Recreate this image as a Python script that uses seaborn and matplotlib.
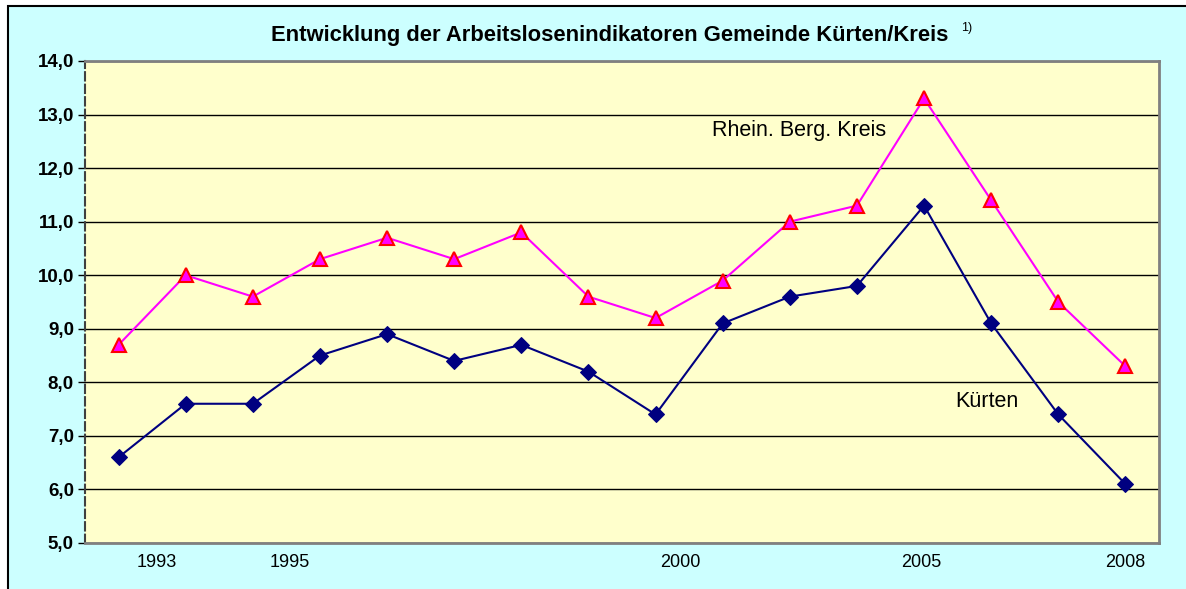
import numpy as np
import pandas as pd
import seaborn as sns
import matplotlib.pyplot as plt
from matplotlib.patches import Rectangle

# data
years = list(range(1993, 2009))
kuerten = [6.6, 7.6, 7.6, 8.5, 8.9, 8.4, 8.7, 8.2, 7.4, 9.1, 9.6, 9.8, 11.3, 9.1, 7.4, 6.1]
kreis = [8.7, 10.0, 9.6, 10.3, 10.7, 10.3, 10.8, 9.6, 9.2, 9.9, 11.0, 11.3, 13.3, 11.4, 9.5, 8.3]
tick_labels = ['1993', '1995', '2000', '2005', '2008']
tick_pos = [0.57, 2.55, 8.37, 11.96, 15.0]

df = pd.DataFrame({'pos': np.arange(len(years)), 'year': years,
                   'Kürten': kuerten, 'Rhein. Berg. Kreis': kreis})

sns.set_style('white')
plt.rcParams['font.family'] = ['Liberation Sans', 'DejaVu Sans']
plt.rcParams['text.color'] = 'black'
plt.rcParams['xtick.color'] = 'black'
plt.rcParams['ytick.color'] = 'black'

fig = plt.figure(figsize=(11.86, 5.89), dpi=100)
fig.patch.set_facecolor('white')
# cyan chart area with black border
fig.patches.append(Rectangle((8 / 1186, -0.02), 1.0, 1 - 6 / 589 + 0.02,
                             transform=fig.transFigure, facecolor='#CCFFFF',
                             edgecolor='black', linewidth=1.5, zorder=-5))

ax = fig.add_axes([85 / 1186, 46 / 589, 1074 / 1186, 482 / 589])
ax.set_facecolor('#FFFFCC')

sns.lineplot(data=df, x='pos', y='Rhein. Berg. Kreis', ax=ax, color='#FF00FF',
             linewidth=1.5, marker='^', markersize=10, markerfacecolor='#FF00FF',
             markeredgecolor='#FF0000', markeredgewidth=1.5, zorder=3)
sns.lineplot(data=df, x='pos', y='Kürten', ax=ax, color='#000080',
             linewidth=1.5, marker='D', markersize=8, markerfacecolor='#000080',
             markeredgecolor='#000080', zorder=3)

ax.set_xlim(-0.5, 15.5)
ax.set_ylim(5, 14)
ax.set_yticks(np.arange(5, 14.5, 1))
ax.set_yticklabels([f'{v:.1f}'.replace('.', ',') for v in np.arange(5, 14.5, 1)],
                   fontsize=13.5, fontweight='bold')
ax.set_xticks(tick_pos)
ax.set_xticklabels(tick_labels, fontsize=13)
ax.tick_params(axis='y', direction='out', length=5, width=1, color='black', pad=3, left=True)
ax.tick_params(axis='x', length=0, pad=8)
ax.set_xlabel('')
ax.set_ylabel('')
ax.grid(axis='y', color='black', linewidth=1)
ax.set_axisbelow(True)

for s in ['top', 'right', 'bottom']:
    ax.spines[s].set_color('#808080')
    ax.spines[s].set_linewidth(2)
ax.spines['left'].set_color('#404040')
ax.spines['left'].set_linewidth(1.5)
ax.spines['left'].set_linestyle((0, (4, 2)))

ax.text(8.84, 12.71, 'Rhein. Berg. Kreis', fontsize=15.5, ha='left', va='center')
ax.text(12.46, 7.64, 'Kürten', fontsize=15.5, ha='left', va='center')

fig.text(610 / 1186, 1 - 35 / 589, 'Entwicklung der Arbeitslosenindikatoren Gemeinde Kürten/Kreis',
         ha='center', va='center', fontsize=15.8, fontweight='bold')
fig.text(961 / 1186, 1 - 28 / 589, '1)', ha='left', va='center', fontsize=9)

fig.savefig('out.png', dpi=100)
